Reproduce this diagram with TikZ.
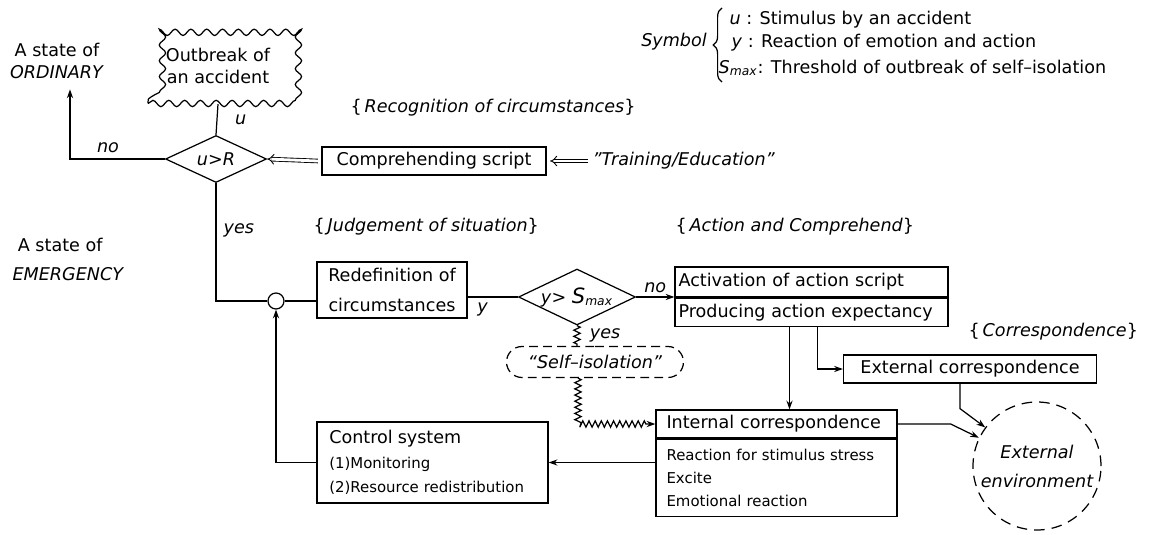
\documentclass[tikz,border=0pt]{standalone}
\usepackage{fontspec}
\setmainfont{DejaVu Sans}
\usepackage{tikz}
\usetikzlibrary{arrows.meta, calc, decorations.pathmorphing, decorations.pathreplacing, positioning, shapes.geometric, shapes.misc}
\newcommand{\txt}{\fontsize{10}{12.5}\selectfont}
\newcommand{\subtxt}{\fontsize{8.5}{13}\selectfont}

\begin{document}
\begin{tikzpicture}[x=0.02cm, y=-0.02cm, line width=0.7pt, >={Stealth[length=5pt, width=3.5pt]},
    every node/.style={font=\txt, inner sep=0pt},
    box/.style={draw, inner xsep=3pt},
    dec/.style={draw, diamond, inner sep=0pt},
    lbl/.style={font=\txt\itshape},
    dbl/.style={double, double distance=1.6pt, line width=0.5pt, -{Implies}},
    zz/.style={decorate, decoration={zigzag, amplitude=1.8pt, segment length=3.5pt}}]
  \useasboundingbox (0,0) rectangle (1149,534);

  \node[draw, decorate, decoration={snake, amplitude=1.8pt, segment length=9pt}, minimum width=2.8cm, minimum height=1.5cm, align=center] (outb) at (218,66) {Outbreak of\\an accident};
  \node[dec, aspect=2.15, minimum width=2.02cm, minimum height=0.94cm] (dia1) at (216,159) {\itshape u>R};
  \node[box, minimum width=4.48cm, minimum height=0.56cm] (comp) at (434,161) {Comprehending script};
  \node[lbl, anchor=west] (train) at (592,161) {”Training/Education”};
  \node[lbl, anchor=west] (recog) at (350,108) {{\upshape\{}\,Recognition of circumstances{\upshape\}}};
  \node[align=center] (ord) at (57,61) {A state of\\\textit{ORDINARY}};

  \node[lbl] (sym) at (674,42) {Symbol};
  \draw[decorate, decoration={brace, amplitude=5pt}] (722,82) -- (722,8);
  \node[anchor=west] (leg1) at (729,20) {\textit{u} : Stimulus by an accident};
  \node[anchor=west] (leg2) at (731,43) {\textit{y} : Reaction of emotion and action};
  \node[anchor=west] (leg3) at (718,68) {\textit{S}\textsubscript{\textit{max}}: Threshold of outbreak of self–isolation};

  \draw (outb.south) -- node[lbl, right=10pt] {u} (dia1.north);
  \draw[dbl] ([xshift=-2pt]train.west) -- ([xshift=2pt]comp.east);
  \draw[dbl] ([xshift=-2pt]comp.west) -- (dia1.east);
  \draw[->] (dia1.west) -| node[lbl, pos=0.3, above=3pt] {no} ($(ord.south)+(13,10)$);

  \node[font=\fontsize{10}{16.5}\selectfont, align=left, anchor=west] (emer) at (12,259) {\hspace{3pt}A state of\\\textit{EMERGENCY}};
  \node[lbl, anchor=west] (judg) at (313,227) {{\upshape\{}\,Judgement of situation{\upshape\}}};
  \node[lbl, anchor=west] (actlbl) at (675,227) {{\upshape\{}\,Action and Comprehend{\upshape\}}};
  \node[lbl, anchor=west] (corr) at (968,332) {{\upshape\{}\,Correspondence{\upshape\}}};

  \node[draw, circle, minimum size=0.32cm] (sum) at (276,301) {};
  \node[box, minimum width=3cm, minimum height=1.12cm, align=center, font=\fontsize{10}{17}\selectfont] (redef) at (392,290) {Redefinition of\\circumstances};
  \node[dec, aspect=2.1, minimum width=2.34cm, minimum height=1.12cm] (dia2) at (577,297) {\textit{y}> {\large\itshape S}\textsubscript{\textit{max}}};
  \node[box, inner xsep=2pt, minimum height=0.6cm, text width=5.32cm, align=left] (act1) at (811.5,282) {Activation of action script};
  \node[box, inner xsep=2pt, minimum height=0.56cm, text width=5.32cm, align=left, below=0pt of act1] (act2) {Producing action expectancy};
  \node[draw, rounded rectangle, dash pattern=on 5pt off 3pt, minimum width=3.54cm, minimum height=0.62cm, lbl] (iso) at (595,362) {“Self–isolation”};

  \draw (dia1.south) |- node[lbl, pos=0.2, right=4pt] {yes} (sum.west);
  \draw (sum.east) -- (sum.east -| redef.west);
  \draw (redef.east |- dia2.west) -- node[lbl, below=3pt, pos=0.3] {y} (dia2.west);
  \draw[->] (dia2.east) -- node[lbl, above=2pt] {no} (dia2.east -| act1.west);
  \draw[zz] (dia2.south) -- node[lbl, right=7pt] {yes} (dia2.south |- iso.north);

  \node[box, minimum width=5.06cm, minimum height=0.56cm] (extcorr) at (970,369) {External correspondence};
  \node[box, inner xsep=6pt, minimum height=0.56cm, text width=4.4cm, align=left] (intcorr) at (776.5,424) {Internal correspondence};
  \node[box, inner xsep=6pt, minimum height=1.54cm, text width=4.4cm, align=left, below=0pt of intcorr, font=\subtxt] (intsub) {Reaction for stimulus stress\\Excite\\Emotional reaction};
  \node[box, inner xsep=7pt, minimum height=1.62cm, text width=4.13cm, align=left, font=\fontsize{8.5}{14}\selectfont] (ctrl) at (432.5,462.5) {{\txt Control system}\\(1)Monitoring\\(2)Resource redistribution};
  \node[draw, circle, dash pattern=on 6pt off 4pt, minimum size=2.56cm, align=center, font=\fontsize{10}{16.5}\selectfont\itshape] (env) at (1037,466) {External\\environment};

  \coordinate (isob) at ($(iso.south)+(-17,0)$);
  \draw[zz, ->, decoration={post length=5pt}] (isob) |- (intcorr.west);
  \coordinate (dn1) at ($(act2.south)+(-22,0)$);
  \draw[->] (dn1) -- (dn1 |- intcorr.north);
  \coordinate (dn2) at ($(act2.south)+(6,0)$);
  \draw[->] (dn2) |- (extcorr.west);
  \coordinate (dn3) at ($(extcorr.south)+(-10,0)$);
  \draw[->] (dn3) -- ++(0,25) -- (env);
  \draw[->] (intcorr.east) -- ++(53,0) -- (env);
  \draw[->] (ctrl.east -| intsub.west) -- (ctrl.east);
  \draw[->] (ctrl.west) -| (sum.south);
\end{tikzpicture}
\end{document}
